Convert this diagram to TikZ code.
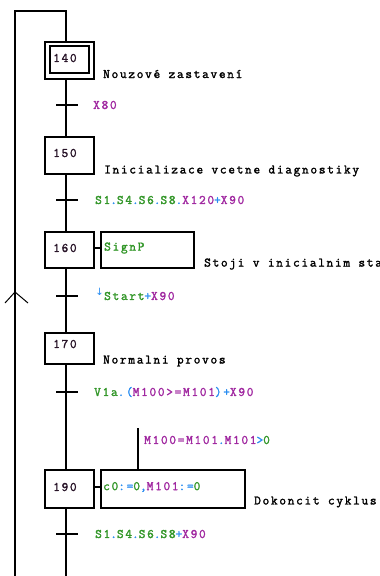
\documentclass[tikz,border=0pt]{standalone}
\usepackage{fontspec}
\usepackage{xcolor}
\newfontfamily\grafmono[LetterSpace=13,FakeBold=1.8]{Latin Modern Mono}
\newfontfamily\symfont{DejaVu Sans}
\definecolor{ingreen}{RGB}{50,150,40}
\definecolor{opblue}{RGB}{40,140,240}
\definecolor{varpurple}{RGB}{160,40,160}
\definecolor{numdark}{RGB}{40,20,40}
\newcommand\cgr[1]{\textcolor{ingreen}{#1}}
\newcommand\cbl[1]{\textcolor{opblue}{#1}}
\newcommand\cpu[1]{\textcolor{varpurple}{#1}}
\tikzset{
  grafline/.style={line width=1.2pt, black},
  stepbox/.style={draw, line width=1.3pt, minimum width=49pt, minimum height=37pt, inner sep=0pt},
  actbox/.style={draw, line width=1.3pt, minimum height=37pt, inner sep=0pt},
  txt/.style={inner sep=0pt, anchor=west, font=\grafmono\fontsize{13}{13}\selectfont},
}
\begin{document}
\begin{tikzpicture}[x=1pt,y=-1pt]
\useasboundingbox (0,0) rectangle (380,576);
\clip (0,0) rectangle (380,576);

% axis of the main sequence
\coordinate (ax) at (66,0);
\coordinate (tl) at (15,11);
\coordinate (tr) at (66,11);
\coordinate (bl) at (15,576);

% initial step 140 (double frame)
\node[stepbox] (s140) at (69.5,60.5) {};
\node[draw, line width=1.2pt, minimum width=39pt, minimum height=27pt, inner sep=0pt] (s140i) at (69.5,59.5) {};
\node[txt, text=numdark] (n140) at (53,58) {140};
\node[txt] (d140) at (103,74) {Nouzové zastavení};

% step 150
\node[stepbox] (s150) at (69.5,155.5) {};
\node[txt, text=numdark] (n150) at (53,153) {150};
\node[txt] (d150) at (104,171) {Inicializace vcetne diagnostiky};

% step 160 with action
\node[stepbox, minimum height=36pt] (s160) at (69.5,250) {};
\node[txt, text=numdark] (n160) at (53,248) {160};
\node[actbox, minimum width=93pt, minimum height=36pt] (a160) at (147.5,250) {};
\node[txt] (x160) at (104,248) {\cgr{SignP}};
\node[txt] (d160) at (204,264) {Stoji v inicialnim stavu};

% step 170
\node[stepbox, minimum height=31pt] (s170) at (69.5,348.5) {};
\node[txt, text=numdark] (n170) at (53,344) {170};
\node[txt] (d170) at (103,361) {Normalni provos};

% step 190 with action
\node[stepbox, minimum height=38pt] (s190) at (69.5,489) {};
\node[txt, text=numdark] (n190) at (53,487) {190};
\node[actbox, minimum width=144pt, minimum height=38pt] (a190) at (173,489) {};
\node[txt] (x190) at (103,487) {\cgr{c0}\cbl{:=}\cgr{0}\cbl{,}\cpu{M101}\cbl{:=}\cgr{0}};
\node[txt] (d190) at (254,502) {Dokoncit cyklus};

% transitions
\coordinate (t1) at (67,105);
\coordinate (t2) at (67,200);
\coordinate (t3) at (67,296);
\coordinate (t4) at (67,392);
\coordinate (t5) at (67,534);
\foreach \t in {t1,t2,t3,t4,t5}
  \draw[grafline] ([xshift=-11pt]\t) -- ([xshift=11pt]\t);

\node[txt] (c1) at (93,105) {\cpu{X80}};
\node[txt] (c2) at (95,200) {\cgr{S1}\cbl{.}\cgr{S4}\cbl{.}\cgr{S6}\cbl{.}\cgr{S8}\cbl{.}\cpu{X120}\cbl{+}\cpu{X90}};
\node[txt] (c3) at (104,296) {\cgr{Start}\cbl{+}\cpu{X90}};
\node[inner sep=0pt, anchor=east, text=opblue, font=\symfont\fontsize{10}{10}\selectfont] (c3a) at (c3.west |- 0,292) {↓};
\node[txt] (c4) at (94,392) {\cgr{V1a}\cbl{.(}\cpu{M100>=M101}\cbl{)+}\cpu{X90}};
\node[txt] (c5) at (95,534) {\cgr{S1}\cbl{.}\cgr{S4}\cbl{.}\cgr{S6}\cbl{.}\cgr{S8}\cbl{+}\cpu{X90}};

% condition on action 190
\coordinate (cond) at (138,428);
\draw[grafline] (cond) -- (cond |- a190.north);
\node[txt] (cc) at (144,440) {\cpu{M100=M101}\cbl{.}\cpu{M101}\cbl{>}\cgr{0}};

% links step to action
\draw[grafline] (s160.east |- n160) -- (a160.west |- n160);
\draw[grafline] (s190.east |- n190) -- (a190.west |- n190);

% sequence links
\draw[grafline] (bl) -- (tl) -- (tr) -- (s140.north -| ax);
\draw[grafline] (s140.south -| ax) -- (s150.north -| ax);
\draw[grafline] (s150.south -| ax) -- (s160.north -| ax);
\draw[grafline] (s160.south -| ax) -- (s170.north -| ax);
\draw[grafline] (s170.south -| ax) -- (s190.north -| ax);
\draw[grafline] (s190.south -| ax) -- (ax |- bl);

% upward arrow on the return line
\coordinate (rp) at (15,292);
\draw[line width=1pt] ([shift={(-10,11)}]rp) -- (rp) -- ([shift={(13,11)}]rp);
\end{tikzpicture}
\end{document}
